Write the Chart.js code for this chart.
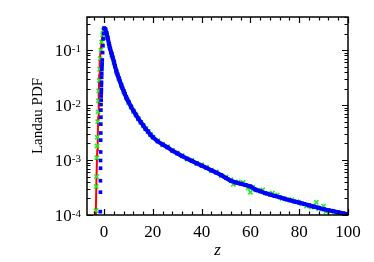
<!DOCTYPE html>
<html><head><meta charset="utf-8">
<script src="https://cdn.jsdelivr.net/npm/chart.js@4/dist/chart.umd.min.js"></script>
<style>html,body{margin:0;padding:0;background:#fff}#c{display:block}</style>
</head><body>
<canvas id="c" width="374" height="262"></canvas>
<script>
// ---- data ----
const xTickLabels = [0, 20, 40, 60, 80, 100];
const yTickExponents = [-4, -3, -2, -1];
const xTitle = 'z';
const yTitle = 'Landau PDF';

// red: exact density (line)
const redZ = [-3.6,-3.4,-3.1,-2.8,-2.6,-2.4,-2.2,-2.0,-1.8,-1.5,-1.2,-0.8,-0.4,0,1,2,3,4,5,6,7,8,9,10,12,14,16,18,20,24,28,32,36,40,45,50,55,60,65,70,75,80,85,90,95,100];
const redV = [5e-5,1e-4,5e-4,1.5e-3,2.5e-3,6e-3,0.015,0.035,0.06,0.09,0.12,0.17,0.22,0.25,0.205,0.13,0.088,0.062,0.042,0.031,0.0235,0.018,0.0141,0.0115,0.0079,0.0057,0.0043,0.0033,0.0026,0.00192,0.00148,0.00118,0.00096,0.00079,0.00062,0.00047,0.00038,0.00033,0.00026,0.000222,0.000192,0.000168,0.000146,0.000127,0.000114,0.000102];

// green: sampled histogram (crosses)
const greenZ = [-3.3,-3.2,-3.1,-3.0,-2.9,-2.8,-2.6,-2.5,-2.3,-2.2,-2.0,-1.8,-1.6,-1.3,-1.0,-0.6,-0.3,0.3,1.2,2.1,3.1,4.1,5.1,6.1,7.1,8.1,9.1,10.1,11.1,12.1,13.1,14.1,15.1,16.1,17.1,18.1,19.1,20.1,22,24,26,28,30,32,34,36,38,40,42,44,46,48,50,52,53,55,57,59,60,61,63,65,67,69,70,71,73,75,77,79,81,83,85,87,88,90,91,93,95,97,99];
const greenV = [1.2e-4,3.3e-4,5e-4,1.1e-3,1.8e-3,2.6e-3,5e-3,7.5e-3,0.012,0.018,0.028,0.045,0.07,0.1,0.14,0.19,0.23,0.225,0.17,0.118,0.082,0.058,0.04,0.0295,0.0224,0.0172,0.0136,0.011,0.0091,0.0076,0.0065,0.0056,0.0048,0.0042,0.0037,0.0033,0.0029,0.0026,0.00225,0.0019,0.00175,0.0015,0.00135,0.00121,0.00104,0.00099,0.00086,0.00082,0.00074,0.00064,0.00061,0.00052,0.00049,0.00044,0.00036,0.0004,0.00039,0.00031,0.00026,0.00032,0.00028,0.000285,0.000245,0.00025,0.00023,0.00023,0.0002,0.00019,0.00019,0.000175,0.00016,0.000145,0.00014,0.00017,0.00013,0.000145,0.000115,0.000118,0.000108,0.0001,0.000098];

// blue: rising edge (separate squares)
const blueRiseZ = [-1.55,-1.5,-1.5,-1.45,-1.45,-1.4,-1.4,-1.35,-1.35,-1.3,-1.3,-1.25,-1.2,-1.2,-1.15,-1.1,-1.1,-1.05,-1.0,-0.95,-0.9,-0.85,-0.8,-0.75,-0.6,-0.45,-0.3,-0.15];
const blueRiseV = [1.15e-4,2.6e-4,4.2e-4,7.1e-4,9.8e-4,1.4e-3,2.3e-3,3.1e-3,4.5e-3,6e-3,8.1e-3,0.0102,0.0123,0.0146,0.0167,0.0193,0.023,0.026,0.032,0.037,0.044,0.05,0.057,0.066,0.09,0.12,0.16,0.2];

// blue: main curve (squares, dense)
const blueZ = [0,0.5,1,1.5,2,2.5,3,3.5,4,4.5,5,5.5,6,6.5,7,7.5,8,8.5,9,9.5,10,11,12,13,14,15,16,17,18,19,20,22,24,26,28,30,32,34,36,38,40,42,44,46,48,50,52,54,56,58,60,62,64,66,68,70,72,74,76,78,80,82,84,86,88,90,92,94,96,98,100];
const blueV = [0.25,0.24,0.205,0.165,0.13,0.106,0.088,0.074,0.062,0.051,0.042,0.036,0.031,0.027,0.0235,0.0205,0.018,0.016,0.0141,0.0127,0.0115,0.0094,0.0079,0.0067,0.0057,0.0049,0.0043,0.0037,0.0033,0.0029,0.0026,0.00218,0.00192,0.0017,0.00148,0.00132,0.00118,0.00106,0.00096,0.00087,0.00079,0.00072,0.00065,0.00059,0.00053,0.00047,0.00042,0.00039,0.00037,0.00035,0.00033,0.00029,0.00027,0.00025,0.000235,0.000222,0.00021,0.000198,0.000186,0.000176,0.000168,0.000159,0.00015,0.000142,0.000135,0.000127,0.000122,0.000117,0.000112,0.000107,0.000102];

const pts = (zs, vs) => zs.map((z, i) => ({x: z, y: vs[i]}));

const FONT = '"Liberation Serif", "Times New Roman", serif';

const framePlugin = {
  id: 'frame',
  afterDraw(chart) {
    const {ctx, chartArea: a, scales: {x, y}} = chart;
    ctx.save();
    ctx.strokeStyle = '#000';
    ctx.lineWidth = 1.5;
    ctx.strokeRect(a.left, a.top, a.right - a.left, a.bottom - a.top);
    ctx.lineWidth = 1.2;
    const MAJ = 6, MIN = 3.5;
    ctx.beginPath();
    for (let v = -4; v <= 100; v += 4) {
      const px = Math.round(x.getPixelForValue(v)) + 0.5;
      const len = (v % 20 === 0) ? MAJ : MIN;
      ctx.moveTo(px, a.bottom); ctx.lineTo(px, a.bottom - len);
      ctx.moveTo(px, a.top); ctx.lineTo(px, a.top + len);
    }
    for (let e = -4; e <= -1; e++) {
      for (let m = 1; m <= 9; m++) {
        const v = m * Math.pow(10, e);
        if (v > y.max * 1.0001) continue;
        const py = Math.round(y.getPixelForValue(v)) + 0.5;
        const len = (m === 1) ? MAJ : MIN;
        ctx.moveTo(a.left, py); ctx.lineTo(a.left + len, py);
        ctx.moveTo(a.right, py); ctx.lineTo(a.right - len, py);
      }
    }
    ctx.stroke();

    ctx.fillStyle = '#000';
    ctx.font = '17px ' + FONT;
    ctx.textAlign = 'center';
    ctx.textBaseline = 'alphabetic';
    xTickLabels.forEach(v => {
      ctx.fillText(String(v), x.getPixelForValue(v), a.bottom + 22);
    });
    yTickExponents.forEach(e => {
      const py = y.getPixelForValue(Math.pow(10, e));
      const exp = '-' + Math.abs(e);
      ctx.font = '11px ' + FONT;
      const we = ctx.measureText(exp).width;
      ctx.font = '17px ' + FONT;
      const wb = ctx.measureText('10').width;
      const right = a.left - 6;
      ctx.textAlign = 'left';
      ctx.fillText('10', right - we - wb, py + 6);
      ctx.font = '11px ' + FONT;
      ctx.fillText(exp, right - we, py + 2);
    });
    ctx.textAlign = 'center';
    ctx.font = 'italic 17px ' + FONT;
    ctx.fillText(xTitle, (a.left + a.right) / 2, a.bottom + 40);
    ctx.save();
    ctx.translate(42, (a.top + a.bottom) / 2);
    ctx.rotate(-Math.PI / 2);
    ctx.font = '15px ' + FONT;
    ctx.fillText(yTitle, 0, 0);
    ctx.restore();
    ctx.restore();
  }
};

new Chart(document.getElementById('c'), {
  type: 'scatter',
  data: {
    datasets: [
      {label: 'blue rise', data: pts(blueRiseZ, blueRiseV), showLine: false, pointStyle: 'rect',
       pointRadius: 2.6, backgroundColor: '#0000ff', borderColor: '#0000ff', borderWidth: 0, order: 1, clip: 0},
      {label: 'blue', data: pts(blueZ, blueV), showLine: true, borderColor: '#0000ff', borderWidth: 4.2,
       pointStyle: 'rect', pointRadius: 2.8, backgroundColor: '#0000ff', pointBorderWidth: 0, order: 2, clip: 0},
      {label: 'green', data: pts(greenZ, greenV), showLine: false, pointStyle: 'crossRot',
       pointRadius: 3, borderColor: '#22ee22', borderWidth: 1.6, order: 3, clip: 0},
      {label: 'red', data: pts(redZ, redV), showLine: true, borderColor: '#ff0000', borderWidth: 2,
       pointRadius: 0, order: 4, clip: 0}
    ]
  },
  options: {
    responsive: false,
    animation: false,
    events: [],
    layout: {padding: {left: 0, right: 26, top: 17, bottom: 0}, autoPadding: false},
    plugins: {legend: {display: false}, tooltip: {enabled: false}},
    scales: {
      x: {type: 'linear', min: -7, max: 100,
          ticks: {display: false}, grid: {display: false}, border: {display: false},
          afterFit: s => { s.height = 47; }},
      y: {type: 'logarithmic', min: 1e-4, max: 0.4,
          ticks: {display: false}, grid: {display: false}, border: {display: false},
          afterFit: s => { s.width = 87; }}
    }
  },
  plugins: [framePlugin]
});
</script>
</body></html>
